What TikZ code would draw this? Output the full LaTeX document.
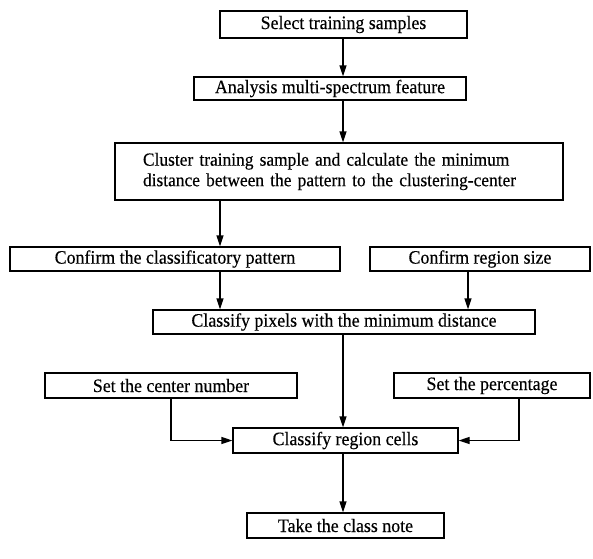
\documentclass[tikz,border=0pt]{standalone}
\usepackage{fontspec}
\setmainfont{Liberation Serif}
\newfontfamily\labelfont{Liberation Serif}[FakeBold=0.35, FakeStretch=0.94]
\usetikzlibrary{arrows.meta}

\tikzset{
  box/.style={draw, line width=1.3pt, inner sep=0pt, align=center,
    font=\labelfont\fontsize{19}{21}\selectfont},
  arr/.style={draw, line width=1.3pt, -{Triangle[length=11pt,width=7pt]}},
}

% place a box by its left/right/top/bottom edges (pt, y measured downward)
\newcommand{\boxat}[7][]{%
  \node[box, minimum width={(#4)-(#3)}, minimum height={(#6)-(#5)}, #1]
    (#2) at ({((#3)+(#4))/2}, {-((#5)+(#6))/2}) {#7};}

\begin{document}
\begin{tikzpicture}[x=1pt, y=1pt]
  \useasboundingbox (0,0) rectangle (593,-558);

  \boxat{sel}{220}{467}{11}{38}{Select training samples}
  \boxat{ana}{194}{466}{77}{100}{Analysis multi-spectrum feature}
  \boxat[align=left, text width=392pt, inner xsep=28pt,
         font=\labelfont\fontsize{18.5}{20.5}\selectfont]
        {clu}{115}{563}{143}{200}{Cluster training sample and calculate the minimum\\distance between the pattern to the clustering-center}
  \boxat{pat}{10}{340}{247}{271}{Confirm the classificatory pattern}
  \boxat{reg}{370}{590}{247}{271}{Confirm region size}
  \boxat{pix}{153}{535}{310}{334}{Classify pixels with the minimum distance}
  \boxat{cen}{45}{297}{373}{398}{Set the center number}
  \boxat{pct}{394}{590}{373}{398}{Set the percentage}
  \boxat{cel}{233}{458}{428}{453}{Classify region cells}
  \boxat{note}{247}{444}{513}{538}{Take the class note}

  % vertical lanes of the connectors
  \coordinate (xm) at (343,0);
  \coordinate (xl) at (220,0);
  \coordinate (xr) at (468,0);
  \coordinate (xc) at (171,0);
  \coordinate (xp) at (519,0);

  \draw[arr] (sel.south -| xm) -- (ana.north -| xm);
  \draw[arr] (ana.south -| xm) -- (clu.north -| xm);
  \draw[arr] (clu.south -| xl) -- (pat.north -| xl);
  \draw[arr] (pat.south -| xl) -- (pix.north -| xl);
  \draw[arr] (reg.south -| xr) -- (pix.north -| xr);
  \draw[arr] (pix.south -| xm) -- (cel.north -| xm);
  \draw[arr] (cen.south -| xc) |- (cel.west);
  \draw[arr] (pct.south -| xp) |- (cel.east);
  \draw[arr] (cel.south -| xm) -- (note.north -| xm);
\end{tikzpicture}
\end{document}
